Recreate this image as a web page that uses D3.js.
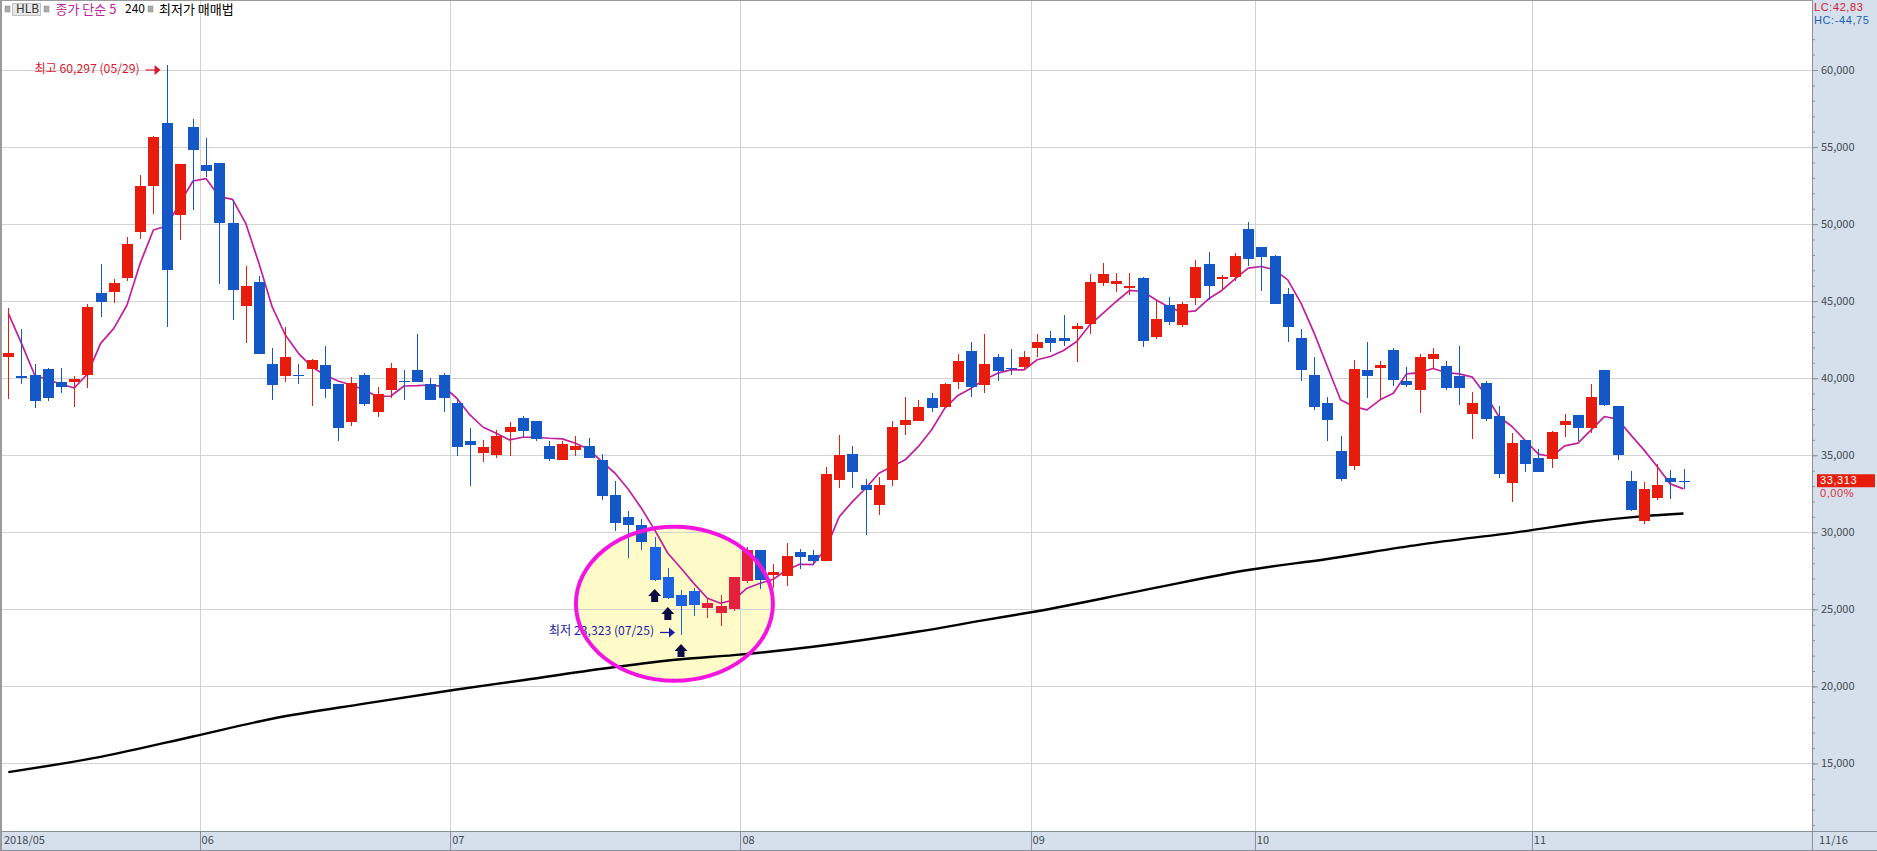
<!DOCTYPE html>
<html>
<head>
<meta charset="utf-8">
<title>HLB</title>
<script src="https://cdn.jsdelivr.net/npm/d3@7/dist/d3.min.js"></script>
<style>
  html, body { margin: 0; padding: 0; background: #fff; overflow: hidden; }
  text { font-family: "Noto Sans CJK KR", "Noto Sans", sans-serif; }
</style>
</head>
<body>
<div id="chart"></div>
<script>
// daily candles, values (index 0 = first day of 2018/05 window)
const opens = [41376,40143,40208,40598,39754,39754,40208,45529,45594,46503,49488,52472,56561,50591,56301,53835,53965,50072,44686,46243,40922,40143,40230,40598,40857,39624,37158,40208,37807,39235,39819,40533,39624,40208,38391,
  35930,35152,35022,36514,37423,37228,35606,34697,35346,35606,34697,32426,30999,30479,29052,27105,25937,26197,25094,24769,25029,26846,28857,27235,27170,28727,28533,28143,33399,35087,33075,31777,33399,
  36976,37235,38728,38144,39766,41778,39571,41388,40674,40739,41972,42621,42621,43205,43530,46190,46125,45866,46515,42686,44763,43465,45217,47423,46450,46579,49694,48526,47942,45476,42621,40220,38403,35289,34315,40545,
  40670,41838,39827,39243,41254,40800,40151,37685,39697,37556,33208,35998,34830,34765,36972,37620,36777,40540,38204,33338,30742,32235,33532,33360];
const closes = [41636,40014,38521,38716,39430,39970,44621,44945,46178,48709,52472,55652,47022,53900,54808,53446,50072,45724,45983,41571,39559,41376,40143,41182,39300,36769,39689,38326,38975,40662,39754,39754,38586,38716,35536,
  35671,35541,36255,36839,36579,36060,34762,35736,35606,34827,32361,30609,30479,29376,26910,25742,25223,25288,25396,25223,27105,28857,26910,27430,28468,28403,28143,33789,35022,33919,32751,33075,36839,
  37300,38144,38079,39636,41129,39442,40934,40480,40588,41388,42362,42297,42427,43400,46255,46774,46320,45995,42427,43854,43659,44827,47228,45995,46579,47942,47747,47877,44827,43335,40545,38144,37300,33472,40610,40155,
  40865,39892,39567,41384,41579,39372,39372,38399,37361,33792,35804,34441,33922,36517,37231,36777,38788,38269,35025,31456,32819,33078,33273,33313];
const highs = [44534,43193,40922,40641,40662,40143,44815,47411,46438,49163,53186,55717,60297,53900,56820,55587,53965,51564,47281,46632,41960,43323,40922,41246,42090,39624,40078,40338,39430,40987,40533,42869,40014,40338,38651,
  36774,35995,36644,37163,37552,37228,35930,35930,36255,36125,35087,33335,31388,30869,29701,27689,26262,26391,25742,25937,27105,29052,28857,27949,29311,28922,28857,34243,36320,35606,33464,33594,37228,
  38793,38598,39052,39701,41583,42362,42881,41583,41907,41778,42881,43075,44114,43595,46774,47488,46839,46839,46579,45022,45282,44957,47683,48202,46709,48137,50148,48526,48007,45866,43205,41388,38793,36262,41194,42362,
  41125,41968,40735,41579,41968,41125,42098,39113,39827,38204,36452,35998,35414,36582,37685,37620,39632,40540,38204,33987,33273,34441,34051,34116];
const lows = [38651,39624,38067,38521,39040,38132,39365,43972,44880,46308,49033,50656,43323,48968,50915,53056,46113,43777,42285,41571,38586,39754,39624,38197,38716,35926,36899,38197,37483,38716,38586,39754,38586,37807,34952,
  33010,34568,34827,34957,36190,35930,34632,34697,34957,34827,32102,30090,28338,28857,26846,25678,23323,24574,24445,23926,24899,26716,26326,26370,26521,27624,27884,28143,32880,32880,29831,31128,33010,
  36327,37235,37819,38079,39312,38793,39052,39831,40220,40545,41388,41713,42102,41064,42881,45995,45606,45411,42037,42556,43465,43335,44763,45087,45736,46320,47293,45671,44827,42362,39831,37949,35938,33342,34056,38728,
  38659,39502,39437,37750,40605,39243,38269,36063,37231,33532,31975,33922,33922,34181,36193,35933,36452,38204,34700,31391,30547,32105,32170,32819];

// 5 day simple average, one reading per candle
const ma5 = [44210,42263,40208,39884,39624,39365,40273,42263,43236,44751,47454,49617,49877,51348,52797,52948,51780,51607,50050,47454,44642,42804,41614,40749,40208,39819,39559,39235,38802,38846,39494,39516,39559,39451,38699,
  37617,36817,36428,35995,36168,36168,36103,36060,35779,35389,34589,33832,32794,31561,30155,28641,27668,26651,25721,25396,25613,26370,26694,26954,27559,27927,27905,28965,31020,31994,32859,33832,34265,
  34705,35570,36651,38057,38879,39355,39896,40328,40545,40545,41194,41410,41799,42383,43465,44222,44979,45693,45628,45087,44611,44287,44373,45152,45693,46450,47142,47250,47034,46385,44871,42924,40761,38598,38165,37949,
  38594,39026,40281,40367,40627,40367,40281,40065,38918,37512,36863,35955,35068,34917,35609,35782,36647,37512,37339,36323,35349,34268,33143,32819];

// 240 day average, readings at the candles listed in ma240Idx
const ma240Idx = [0,7,14,20,27,34,39,46,51,55,61,69,74,78,86,94,100,107,115,120,124,127];
const ma240Val = [14440,15430,16750,17900,18880,19800,20400,21260,21760,22030,22570,23560,24300,24880,26230,27550,28270,29200,30080,30700,31050,31218];

const priceTicks = [15000,20000,25000,30000,35000,40000,45000,50000,55000,60000];
const minorTicks = d3.range(11000, 62001, 1000);
const monthStart = [0,15,34,56,78,95,116];
const monthLabel = ['2018/05','06','07','08','09','10','11'];

// buy signal arrows under the three lows
const signalIdx = [49,50,51];
const signalVal = [26317,25149,22747];

const W = 1877, H = 851;
const plotL = 2, plotT = 1, plotR = 1812, plotB = 832;
const RED = '#e81c0c', BLUE = '#1458c8', GRID = '#d2d2d2', PANEL = '#d6e0ec', AXIS = '#8a9099', INK = '#444a52';
// candles inside the yellow ellipse come out a bit different in the source
const RED_IN = '#e4203c', BLUE_IN = '#1e62e4';
const isInside = i => i >= 49 && i <= 56;
const candleColor = (d, i) => closes[i] >= d ? (isInside(i) ? RED_IN : RED) : (isInside(i) ? BLUE_IN : BLUE);

const x = d3.scaleLinear().domain([0, 127]).range([8.3, 1683.5]);
const y = d3.scaleLinear().domain([60000, 15000]).range([70, 763.45]);

const svg = d3.select('#chart').append('svg').attr('width', W).attr('height', H).style('display', 'block');
svg.append('rect').attr('width', W).attr('height', H).attr('fill', '#fff');

// highlighted ellipse, fill goes under the grid and candles
const ell = { cx: x(50.5), cy: y(25363), rx: 98.5, ry: 77 };
svg.append('ellipse').attr('cx', ell.cx).attr('cy', ell.cy).attr('rx', ell.rx).attr('ry', ell.ry).attr('fill', '#fefbc8');

// grid
const monthX = i => i === 0 ? plotL : x(i - 0.5);
const grid = svg.append('g').attr('stroke', GRID).attr('stroke-width', 1).attr('shape-rendering', 'crispEdges');
grid.selectAll('.h').data(priceTicks).enter().append('line').attr('class', 'h')
  .attr('x1', plotL).attr('x2', plotR).attr('y1', d => Math.round(y(d)) + 0.5).attr('y2', d => Math.round(y(d)) + 0.5);
grid.selectAll('.v').data(monthStart.slice(1)).enter().append('line').attr('class', 'v')
  .attr('y1', plotT).attr('y2', plotB).attr('x1', d => Math.round(monthX(d)) + 0.5).attr('x2', d => Math.round(monthX(d)) + 0.5);

// average lines sit behind the candles
const ma240Line = d3.line().x((d, i) => x(ma240Idx[i])).y(d => y(d)).curve(d3.curveMonotoneX);
svg.append('path').attr('d', ma240Line(ma240Val)).attr('fill', 'none').attr('stroke', '#000').attr('stroke-width', 2.4);
const ma5Line = d3.line().x((d, i) => x(i)).y(d => y(d));
svg.append('path').attr('d', ma5Line(ma5)).attr('fill', 'none').attr('stroke', '#c0209c').attr('stroke-width', 1.7).attr('stroke-linejoin', 'round');

// candles
const candles = svg.append('g').selectAll('g').data(opens).enter().append('g')
  .attr('fill', candleColor).attr('stroke', candleColor);
candles.append('line').attr('stroke-width', 1).attr('shape-rendering', 'crispEdges')
  .attr('x1', (d, i) => Math.round(x(i)) + 0.5).attr('x2', (d, i) => Math.round(x(i)) + 0.5)
  .attr('y1', (d, i) => y(highs[i])).attr('y2', (d, i) => y(lows[i]));
candles.append('rect').attr('stroke', 'none').attr('shape-rendering', 'crispEdges')
  .attr('x', (d, i) => Math.round(x(i)) - 5).attr('width', 11)
  .attr('y', (d, i) => y(Math.max(d, closes[i])))
  .attr('height', (d, i) => Math.max(1, Math.abs(y(d) - y(closes[i]))));

// high / low notes, placed just beside the price they point at
function note(txt, color, val, endX) {
  const py = y(val);
  svg.append('text').attr('x', endX - 21).attr('y', py - 0.5).attr('text-anchor', 'end')
    .attr('dominant-baseline', 'middle').attr('font-size', 12.2).attr('fill', color).text(txt);
  svg.append('line').attr('x1', endX - 15).attr('x2', endX - 4).attr('y1', py).attr('y2', py).attr('stroke', color).attr('stroke-width', 1.2);
  svg.append('path').attr('d', `M${endX},${py}L${endX - 6},${py - 5}L${endX - 6},${py + 5}Z`).attr('fill', color);
}
note('최고 60,297 (05/29)', '#d81830', 60000, x(12) - 6);
note('최저 23,323 (07/25)', '#1a1aa8', 23500, x(51) - 6);

// ellipse outline goes over the candles and the note
svg.append('ellipse').attr('cx', ell.cx).attr('cy', ell.cy).attr('rx', ell.rx).attr('ry', ell.ry)
  .attr('fill', 'none').attr('stroke', '#f414e0').attr('stroke-width', 4);

// buy arrows
svg.append('g').selectAll('path').data(signalVal).enter().append('path')
  .attr('fill', '#0c0c44')
  .attr('d', (d, i) => {
    const cx = x(signalIdx[i]), t = y(d);
    return `M${cx},${t}L${cx + 6.5},${t + 7}L${cx + 3.5},${t + 7}L${cx + 3.5},${t + 13}L${cx - 3.5},${t + 13}L${cx - 3.5},${t + 7}L${cx - 6.5},${t + 7}Z`;
  });

// right price panel
svg.append('rect').attr('x', plotR).attr('y', 0).attr('width', W - plotR).attr('height', H).attr('fill', PANEL);
svg.append('g').attr('transform', `translate(${plotR},0)`)
  .call(d3.axisRight(y).tickValues(minorTicks).tickSize(3).tickFormat(''))
  .call(g => g.select('.domain').remove())
  .call(g => g.selectAll('line').attr('stroke', AXIS));
const yAxis = svg.append('g').attr('transform', `translate(${plotR},0)`)
  .call(d3.axisRight(y).tickValues(priceTicks).tickSize(6).tickPadding(3).tickFormat(d3.format(',')));
yAxis.select('.domain').remove();
yAxis.selectAll('line').attr('stroke', AXIS);
yAxis.selectAll('text').attr('font-size', 11).attr('fill', INK).attr('font-family', '"Noto Sans CJK KR"');
svg.append('line').attr('x1', plotR + 0.5).attr('x2', plotR + 0.5).attr('y1', 0).attr('y2', H).attr('stroke', AXIS);

// last price tag
const last = closes[closes.length - 1];
svg.append('rect').attr('x', 1817).attr('y', y(last) - 7).attr('width', 58).attr('height', 13).attr('fill', RED);
const small = (px, py, txt, color) => svg.append('text').attr('x', px).attr('y', py).attr('dominant-baseline', 'middle')
  .attr('font-family', '"Liberation Sans"').style('font-family', '"Liberation Sans"')
  .attr('font-size', 11).attr('letter-spacing', 0.6).attr('fill', color).text(txt);
small(1820, y(last) - 0.5, d3.format(',')(last), '#fff');
small(1820, y(last) + 12.5, '0,00%', '#d83040');
small(1814, 8, 'LC:42,83', '#d81830');
small(1814, 21, 'HC:-44,75', '#2060b0');

// bottom date panel
svg.append('rect').attr('x', 0).attr('y', plotB).attr('width', W).attr('height', H - plotB).attr('fill', PANEL);
svg.append('line').attr('x1', 0).attr('x2', W).attr('y1', plotB - 0.5).attr('y2', plotB - 0.5).attr('stroke', AXIS);
svg.append('line').attr('x1', 0).attr('x2', W).attr('y1', H - 0.5).attr('y2', H - 0.5).attr('stroke', AXIS);
svg.selectAll('.mt').data(monthStart.slice(1)).enter().append('line').attr('class', 'mt')
  .attr('x1', d => Math.round(monthX(d)) + 0.5).attr('x2', d => Math.round(monthX(d)) + 0.5)
  .attr('y1', plotB).attr('y2', H).attr('stroke', AXIS);
svg.selectAll('.ml').data(monthLabel).enter().append('text').attr('class', 'ml')
  .attr('x', (d, i) => monthX(monthStart[i]) + 2).attr('y', 841)
  .attr('dominant-baseline', 'middle').attr('font-size', 11).attr('fill', INK).text(d => d);
svg.append('line').attr('x1', plotR + 0.5).attr('x2', plotR + 0.5).attr('y1', plotB).attr('y2', H).attr('stroke', AXIS);
svg.append('text').attr('x', 1819).attr('y', 841).attr('dominant-baseline', 'middle').attr('font-size', 11).attr('fill', INK).text('11/16');

// frame
svg.append('rect').attr('x', 0).attr('y', 0).attr('width', 2).attr('height', H).attr('fill', '#9a9a9a');
svg.append('rect').attr('x', 0).attr('y', 0).attr('width', plotR).attr('height', 1).attr('fill', '#9a9a9a');

// header strip
const marker = px => svg.append('rect').attr('x', px).attr('y', 6).attr('width', 5).attr('height', 6)
  .attr('fill', '#aaa').attr('stroke', '#8c8c8c').attr('stroke-width', 0.5);
marker(5); marker(44); marker(148);
svg.append('rect').attr('x', 12.5).attr('y', 3.5).attr('width', 28).attr('height', 12).attr('fill', '#e8e8e8').attr('stroke', '#c0c0c0');
const head = (px, txt, color, size) => svg.append('text').attr('x', px).attr('y', 10).attr('dominant-baseline', 'middle')
  .attr('font-size', size).attr('fill', color).text(txt);
head(16, 'HLB', '#333', 12);
head(55.5, '종가 단순 5', '#c0209c', 13);
head(125, '240', '#000', 12);
head(159, '최저가 매매법', '#000', 13);
</script>
</body>
</html>
